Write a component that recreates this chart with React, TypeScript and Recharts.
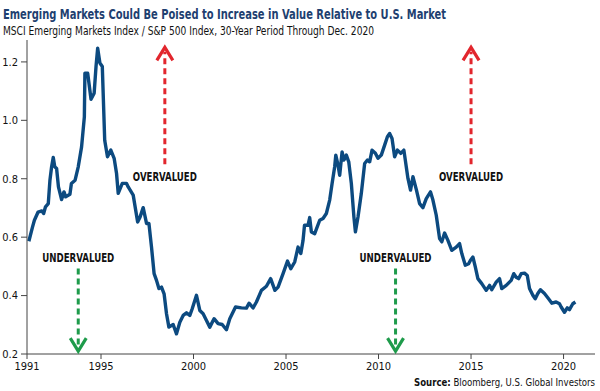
import React from 'react';
import { LineChart, Line, XAxis, YAxis, ReferenceLine, ReferenceDot } from 'recharts';

// MSCI EM / S&P 500 ratio (decimal year, ratio)
const years = [
  1991.1, 1991.3, 1991.4, 1991.6, 1991.8, 1991.9, 1992.0, 1992.15, 1992.24, 1992.33,
  1992.42, 1992.5, 1992.6, 1992.7, 1992.87, 1993.0, 1993.09, 1993.32, 1993.4, 1993.6,
  1993.77, 1993.95, 1994.1, 1994.13, 1994.28, 1994.46, 1994.63, 1994.73, 1994.82, 1994.94,
  1995.07, 1995.2, 1995.35, 1995.53, 1995.71, 1995.84, 1995.93, 1996.15, 1996.38, 1996.47,
  1996.74, 1996.98, 1997.1, 1997.28, 1997.46, 1997.59, 1997.73, 1997.87, 1998.0, 1998.13,
  1998.27, 1998.41, 1998.54, 1998.67, 1998.9, 1999.08, 1999.26, 1999.44, 1999.62, 1999.8,
  1999.93, 2000.16, 2000.34, 2000.52, 2000.7, 2000.88, 2001.11, 2001.33, 2001.55, 2001.78,
  2001.96, 2002.27, 2002.59, 2002.86, 2003.0, 2003.22, 2003.4, 2003.67, 2003.94, 2004.17,
  2004.4, 2004.57, 2004.84, 2005.08, 2005.26, 2005.47, 2005.65, 2005.8, 2005.92, 2006.0,
  2006.19, 2006.28, 2006.37, 2006.55, 2006.82, 2007.0, 2007.18, 2007.36, 2007.49, 2007.63,
  2007.69, 2007.81, 2007.9, 2008.03, 2008.13, 2008.26, 2008.39, 2008.53, 2008.67, 2008.75,
  2008.89, 2009.07, 2009.25, 2009.4, 2009.52, 2009.65, 2009.83, 2009.97, 2010.15, 2010.33,
  2010.48, 2010.6, 2010.73, 2010.87, 2011.02, 2011.2, 2011.37, 2011.59, 2011.73, 2011.86,
  2012.05, 2012.22, 2012.4, 2012.58, 2012.81, 2012.94, 2013.12, 2013.3, 2013.42, 2013.57,
  2013.75, 2013.96, 2014.2, 2014.38, 2014.5, 2014.69, 2014.87, 2014.97, 2015.1, 2015.23,
  2015.37, 2015.58, 2015.82, 2016.0, 2016.12, 2016.36, 2016.54, 2016.66, 2016.9, 2017.17,
  2017.31, 2017.44, 2017.57, 2017.71, 2017.89, 2018.04, 2018.16, 2018.34, 2018.47, 2018.61,
  2018.75, 2018.97, 2019.19, 2019.37, 2019.6, 2019.78, 2019.87, 2020.05, 2020.2, 2020.32,
  2020.5, 2020.64,
];

const ratio = [
  0.586, 0.635, 0.658, 0.686, 0.69, 0.681, 0.704, 0.715, 0.795, 0.841,
  0.873, 0.841, 0.835, 0.772, 0.729, 0.755, 0.738, 0.747, 0.784, 0.795,
  0.841, 0.909, 1.012, 1.161, 1.161, 1.072, 1.093, 1.184, 1.247, 1.196,
  1.184, 0.932, 0.875, 0.898, 0.87, 0.818, 0.75, 0.784, 0.784, 0.772,
  0.744, 0.652, 0.667, 0.701, 0.647, 0.647, 0.566, 0.475, 0.452, 0.424,
  0.429, 0.406, 0.338, 0.292, 0.301, 0.269, 0.309, 0.332, 0.341, 0.332,
  0.355, 0.401, 0.349, 0.338, 0.315, 0.292, 0.321, 0.304, 0.301, 0.283,
  0.321, 0.361, 0.358, 0.357, 0.374, 0.358, 0.378, 0.418, 0.432, 0.458,
  0.418, 0.429, 0.475, 0.518, 0.492, 0.515, 0.566, 0.544, 0.589, 0.641,
  0.641, 0.667, 0.618, 0.612, 0.658, 0.664, 0.681, 0.727, 0.784, 0.841,
  0.881, 0.847, 0.812, 0.892, 0.864, 0.881, 0.858, 0.784, 0.669, 0.618,
  0.669, 0.75, 0.852, 0.864, 0.858, 0.898, 0.887, 0.87, 0.881, 0.915,
  0.944, 0.955, 0.938, 0.875, 0.898, 0.887, 0.898, 0.801, 0.761, 0.807,
  0.761, 0.715, 0.701, 0.732, 0.755, 0.727, 0.675, 0.595, 0.584, 0.614,
  0.589, 0.555, 0.566, 0.578, 0.544, 0.504, 0.509, 0.521, 0.532, 0.498,
  0.458, 0.441, 0.418, 0.435, 0.42, 0.446, 0.458, 0.424, 0.435, 0.452,
  0.475, 0.463, 0.458, 0.475, 0.477, 0.469, 0.424, 0.401, 0.389, 0.407,
  0.42, 0.407, 0.389, 0.374, 0.378, 0.372, 0.361, 0.343, 0.358, 0.352,
  0.372, 0.378,
];

const yearTicks = [1991, 1995, 2000, 2005, 2010, 2015, 2020];
const ratioTicks = [0.2, 0.4, 0.6, 0.8, 1.0, 1.2];

// annotation arrows: x position (year) and ratio levels for shaft/label
const overvaluedYears = [1998.45, 2015.0];
const overvaluedShaft = [0.85, 1.235];
const overvaluedLabel = 0.806;
const undervaluedYears = [1993.77, 2010.92];
const undervaluedShaft = [0.493, 0.225];
const undervaluedLabel = 0.528;

const data = years.map((y, i) => ({ year: y, ratio: ratio[i] }));

const NAVY = '#0c4a80';
const RED = '#e2262d';
const GREEN = '#1e9b4b';
const NARROW = "'DejaVu Sans Condensed', 'Roboto', sans-serif";

const UpHead = (p: any) => (
  <path
    d={`M${p.cx - 8},${p.cy + 13} L${p.cx},${p.cy} L${p.cx + 8},${p.cy + 13}`}
    fill="none"
    stroke={RED}
    strokeWidth={3.2}
  />
);

const DownHead = (p: any) => (
  <path
    d={`M${p.cx - 8},${p.cy - 13} L${p.cx},${p.cy} L${p.cx + 8},${p.cy - 13}`}
    fill="none"
    stroke={GREEN}
    strokeWidth={3.2}
  />
);

// w = width in px the reference gives each tag
const tag = (text: string, w: number) => (p: any) => (
  <text
    x={p.cx}
    y={p.cy}
    textAnchor="middle"
    dominantBaseline="central"
    fontFamily={NARROW}
    fontWeight="bold"
    fontSize={11.5}
    fill="#111"
    textLength={w}
    lengthAdjust="spacingAndGlyphs"
  >
    {text}
  </text>
);

export default function App() {
  return (
    <div style={{ position: 'relative', width: 600, height: 391, background: '#fff' }}>
      <style>{'body{margin:0}'}</style>
      <LineChart
        width={600}
        height={391}
        data={data}
        margin={{ top: 40, right: 5, bottom: 17, left: 0 }}
      >
        <XAxis
          dataKey="year"
          type="number"
          domain={[1991, 2021.7]}
          ticks={yearTicks}
          height={20}
          tickSize={5}
          tickMargin={3}
          stroke="#444"
          tick={{ fontSize: 11, fill: '#111', fontFamily: NARROW }}
        />
        <YAxis
          type="number"
          domain={[0.2, 1.275]}
          ticks={ratioTicks}
          width={27}
          tickSize={6}
          tickMargin={3}
          stroke="#444"
          tickFormatter={(v: number) => v.toFixed(1)}
          tick={{ fontSize: 11, fill: '#111', fontFamily: NARROW }}
        />
        <Line
          dataKey="ratio"
          stroke={NAVY}
          strokeWidth={3.4}
          dot={false}
          strokeLinejoin="round"
          isAnimationActive={false}
        />
        {overvaluedYears.map((x) => (
          <ReferenceLine
            key={'ou' + x}
            segment={[{ x, y: overvaluedShaft[0] }, { x, y: overvaluedShaft[1] }]}
            stroke={RED}
            strokeWidth={3}
            strokeDasharray="6 4"
          />
        ))}
        {overvaluedYears.map((x) => (
          <ReferenceDot key={'oh' + x} x={x} y={overvaluedShaft[1] + 0.015} shape={UpHead} />
        ))}
        {overvaluedYears.map((x) => (
          <ReferenceDot key={'ol' + x} x={x} y={overvaluedLabel} shape={tag('OVERVALUED', 64)} />
        ))}
        {undervaluedYears.map((x) => (
          <ReferenceLine
            key={'uu' + x}
            segment={[{ x, y: undervaluedShaft[0] }, { x, y: undervaluedShaft[1] }]}
            stroke={GREEN}
            strokeWidth={3}
            strokeDasharray="6 4"
          />
        ))}
        {undervaluedYears.map((x) => (
          <ReferenceDot key={'uh' + x} x={x} y={undervaluedShaft[1] - 0.015} shape={DownHead} />
        ))}
        {undervaluedYears.map((x) => (
          <ReferenceDot key={'ul' + x} x={x} y={undervaluedLabel} shape={tag('UNDERVALUED', 72)} />
        ))}
      </LineChart>
      <svg
        width={600}
        height={391}
        style={{ position: 'absolute', left: 0, top: 0, pointerEvents: 'none' }}
      >
        <text
          x={3}
          y={18.5}
          fontFamily={NARROW}
          fontWeight="bold"
          fontSize={14.5}
          fill="#1e3f70"
          textLength={443}
          lengthAdjust="spacingAndGlyphs"
        >
          Emerging Markets Could Be Poised to Increase in Value Relative to U.S. Market
        </text>
        <text
          x={3}
          y={34.5}
          fontFamily={NARROW}
          fontSize={12.5}
          fill="#111"
          textLength={371}
          lengthAdjust="spacingAndGlyphs"
        >
          MSCI Emerging Markets Index / S&amp;P 500 Index, 30-Year Period Through Dec. 2020
        </text>
        <text
          x={414}
          y={386}
          fontFamily={NARROW}
          fontSize={9.6}
          fill="#111"
          textLength={181}
          lengthAdjust="spacingAndGlyphs"
        >
          <tspan fontWeight="bold">Source:</tspan> Bloomberg, U.S. Global Investors
        </text>
      </svg>
    </div>
  );
}
